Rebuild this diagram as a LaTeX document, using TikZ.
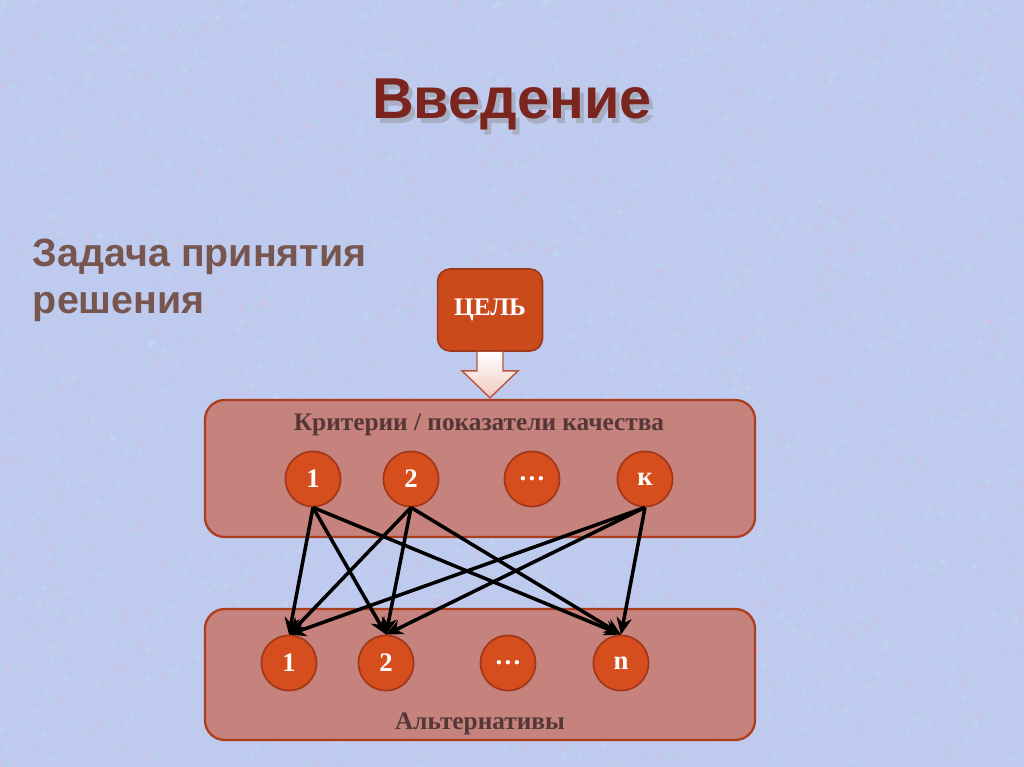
\documentclass[tikz,border=0pt]{standalone}
\usepackage{fontspec}
\setmainfont{Liberation Serif}
\newfontfamily\headfont{Liberation Sans}
\usetikzlibrary{arrows.meta, calc}
\definecolor{bgblue}{RGB}{190,202,238}
\definecolor{bgpink}{RGB}{228,188,224}
\definecolor{bgcyan}{RGB}{198,228,248}
\definecolor{panelfill}{RGB}{198,130,124}
\definecolor{paneledge}{RGB}{172,62,30}
\definecolor{ballfill}{RGB}{214,78,30}
\definecolor{balledge}{RGB}{160,55,25}
\definecolor{titlered}{RGB}{122,38,30}
\definecolor{subgray}{RGB}{120,86,80}
\definecolor{labelbrown}{RGB}{85,55,55}
\definecolor{arrowedge}{RGB}{185,85,55}
\definecolor{arrowpink}{RGB}{240,200,192}

\begin{document}
\begin{tikzpicture}[x=0.025cm, y=-0.025cm,
    panel/.style={draw=paneledge, line width=1.6pt, fill=panelfill, rounded corners=14pt},
    ball/.style={circle, draw=balledge, line width=1.2pt, fill=ballfill, minimum size=1.38cm, inner sep=0pt,
      text=white, font=\bfseries\fontsize{19}{19}\selectfont},
    link/.style={-{Stealth[length=4.2mm, width=3.8mm]}, line width=2.5pt, black},
    caption/.style={text=labelbrown, font=\bfseries\fontsize{18}{18}\selectfont}]
    \useasboundingbox (0,0) rectangle (1024,767);
    \fill[bgblue] (0,0) rectangle (1024,767);
    % mottled background
    \pgfmathsetseed{11}
    \foreach \i in {1,...,1500} {
      \fill[bgpink, opacity=.25] (1024*rnd, 767*rnd) circle (1+2.5*rnd);
      \fill[bgcyan, opacity=.25] (1024*rnd, 767*rnd) circle (1+2.5*rnd);
    }
    % headings
    \node[text=black!45, opacity=.45, font=\headfont\bfseries\fontsize{41}{41}\selectfont] (titleshadow) at (516,109) {Введение};
    \node[text=titlered, font=\headfont\bfseries\fontsize{41}{41}\selectfont] (title) at (512,104) {Введение};
    \node[anchor=base west, text=subgray, font=\headfont\bfseries\fontsize{28}{28}\selectfont] (sub1) at (28,266) {Задача принятия};
    \node[anchor=base west, text=subgray, font=\headfont\bfseries\fontsize{28}{28}\selectfont] (sub2) at (28,313) {решения};
    % goal and block arrow
    \node[draw=balledge, line width=1.2pt, fill=ballfill!95!black, rounded corners=9pt, minimum width=2.62cm, minimum height=2.05cm,
      text=white, font=\bfseries\fontsize{18}{18}\selectfont] (goal) at (490,310) {ЦЕЛЬ};
    \draw[draw=arrowedge, line width=1pt, top color=white, bottom color=arrowpink]
      ($(goal.south)+(-13,0)$) -- ($(goal.south)+(-13,19)$) -- ($(goal.south)+(-28,19)$) -- ($(goal.south)+(0,46)$)
      -- ($(goal.south)+(28,19)$) -- ($(goal.south)+(13,19)$) -- ($(goal.south)+(13,0)$);
    % panels
    \draw[panel] (205,400) rectangle (755,537);
    \draw[panel] (205,609) rectangle (755,740);
    \node[caption] (critlabel) at (479,425) {Критерии / показатели качества};
    \node[caption] (altlabel) at (480,724) {Альтернативы};
    % criteria
    \node[ball] (crit1) at (313,479) {1};
    \node[ball] (crit2) at (411,479) {2};
    \node[ball] (critdots) at (532,479) {\dots};
    \node[ball] (critk) at (645,479) {к};
    % alternatives
    \node[ball] (alt1) at (289,663) {1};
    \node[ball] (alt2) at (386,663) {2};
    \node[ball] (altdots) at (508,663) {\dots};
    \node[ball] (altn) at (621,663) {n};
    \foreach \s in {crit1, crit2, critk}
      \foreach \t in {alt1, alt2, altn}
        \draw[link] (\s.south) -- (\t.north);
\end{tikzpicture}
\end{document}
